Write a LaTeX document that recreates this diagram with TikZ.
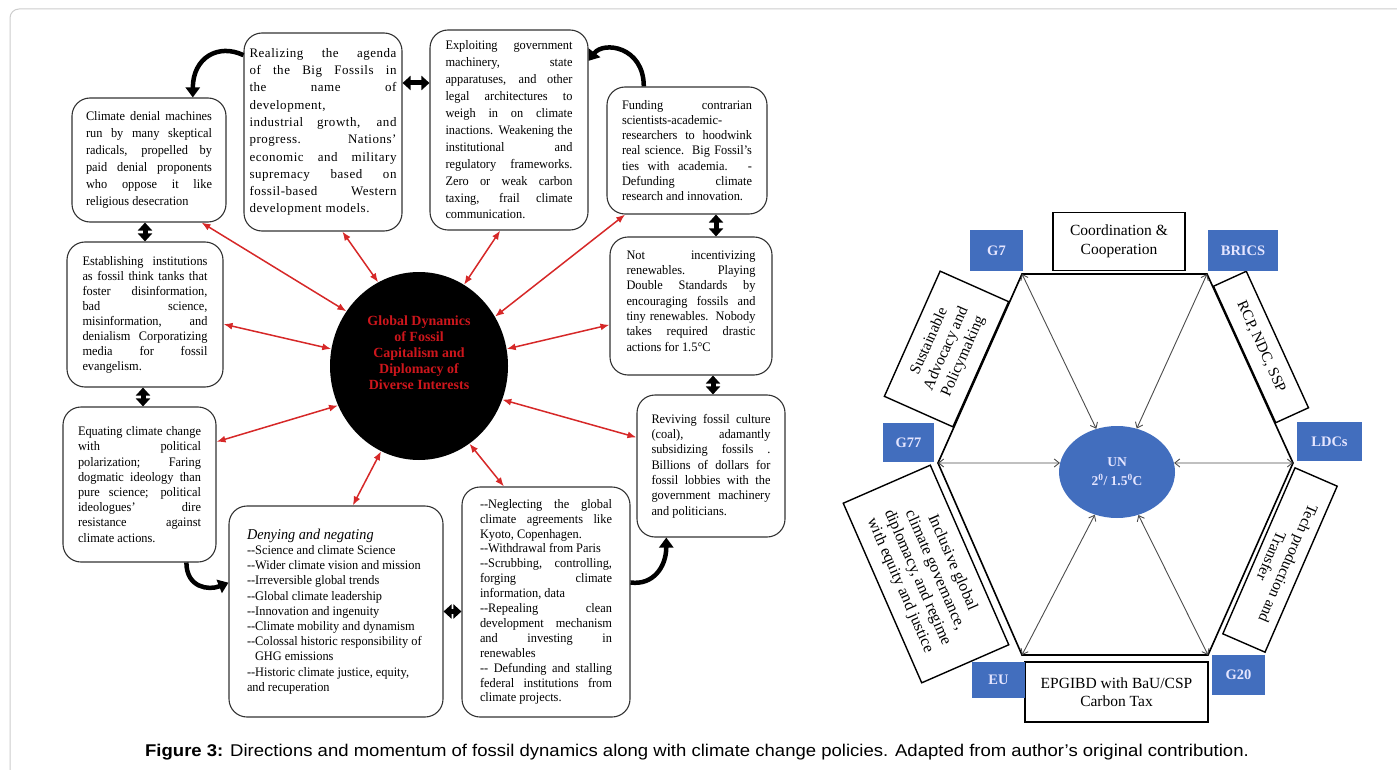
\documentclass[tikz,border=0pt]{standalone}
\usepackage{fontspec}
\setmainfont{Liberation Serif}
\setsansfont{Liberation Sans}
\newfontfamily\boxfont[FakeStretch=0.95,Ligatures=TeX]{Liberation Serif}
\newfontfamily\widefont[LetterSpace=4,Ligatures=TeX]{Liberation Serif}
\usetikzlibrary{arrows.meta,shapes.geometric}
\definecolor{arrred}{RGB}{214,40,40}
\definecolor{txtred}{RGB}{205,22,28}
\definecolor{hexblue}{RGB}{66,110,190}
\definecolor{frame}{RGB}{205,205,205}
\newcommand\jline[1]{\hbox to \hsize{#1}}
\newcommand\lline[1]{\hbox to \hsize{#1\hfil}}
\newcommand\dd{\mbox{-}\mbox{-}}
\newcommand\tb[2]{\vbox{\hsize=#1\relax #2}}
\tikzset{
 box/.style={draw=black!80, line width=1.1pt, rounded corners=18pt, fill=white, inner sep=0pt},
 redarr/.style={draw=arrred, line width=1.5pt, {Latex[length=9pt,width=7pt]}-{Latex[length=9pt,width=7pt]}},
 thk/.style={line width=5pt, {Triangle[length=8pt,width=14pt]}-{Triangle[length=8pt,width=14pt]}},
 curv/.style={line width=4.5pt, -{Triangle[length=10pt,width=14pt]}},
 blu/.style={fill=hexblue, text=white!90!blue, font=\fontsize{14.5}{16}\selectfont\bfseries, inner sep=0pt},
 lab/.style={draw=black, line width=1.4pt, fill=white, align=center, inner sep=0pt, font=\fontsize{15.5}{18.5}\selectfont},
 unarr/.style={draw=black!70, line width=0.9pt, {Straight Barb[length=5pt,width=8pt]}-{Straight Barb[length=5pt,width=8pt]}},
 hexline/.style={draw=black, line width=1.6pt, line join=miter},
}
\begin{document}
\begin{tikzpicture}[x=1pt,y=-1pt]
\useasboundingbox (0,0) rectangle (1397,770);
\begin{scope}
\clip (0,0) rectangle (1397,770);
\draw[frame, line width=1pt, rounded corners=9pt] (10,9) rectangle (1430,800);
\end{scope}

% ---------------- left diagram ----------------
\node[box, minimum width=154pt, minimum height=124pt, font=\boxfont\fontsize{13}{17}\selectfont] (A) at (149,160) {\tb{126pt}{%
\jline{Climate denial machines}
\jline{run by many skeptical}
\jline{radicals, propelled by}
\jline{paid denial proponents}
\jline{who oppose it like}
\lline{religious desecration}}};

\node[box, minimum width=158pt, minimum height=198pt, font=\widefont\fontsize{13}{17.3}\selectfont] (B) at (323,132) {\tb{147pt}{%
\jline{Realizing the agenda}
\jline{of the Big Fossils in}
\jline{the name of}
\lline{development,}
\jline{industrial growth, and}
\jline{progress. Nations'}
\jline{economic and military}
\jline{supremacy based on}
\jline{fossil-based Western}
\lline{development models.}}};

\node[box, minimum width=158pt, minimum height=200pt, font=\boxfont\fontsize{13}{16.9}\selectfont] (C) at (509,130) {\tb{127pt}{%
\jline{Exploiting government}
\jline{machinery, state}
\jline{apparatuses, and other}
\jline{legal architectures to}
\jline{weigh in on climate}
\jline{inactions. Weakening the}
\jline{institutional and}
\jline{regulatory frameworks.}
\jline{Zero or weak carbon}
\jline{taxing, frail climate}
\lline{communication.}}};

\node[box, minimum width=160pt, minimum height=127pt, font=\boxfont\fontsize{13}{15.3}\selectfont] (D) at (687,150.5) {\tb{130pt}{%
\jline{Funding contrarian}
\lline{scientists-academic-}
\jline{researchers to hoodwink}
\jline{real science. Big Fossil's}
\jline{ties with academia. -}
\jline{Defunding climate}
\lline{research and innovation.}}};

\node[box, minimum width=162pt, minimum height=138pt, font=\boxfont\fontsize{13}{15.3}\selectfont] (E) at (691,306) {\tb{129pt}{%
\jline{Not incentivizing}
\jline{renewables. Playing}
\jline{Double Standards by}
\jline{encouraging fossils and}
\jline{tiny renewables. Nobody}
\jline{takes required drastic}
\lline{actions for 1.5°C}
\vskip10pt}};

\node[box, minimum width=148pt, minimum height=142pt, font=\boxfont\fontsize{13}{15.3}\selectfont] (F) at (711,466) {\tb{119pt}{%
\jline{Reviving fossil culture}
\jline{(coal), adamantly}
\jline{subsidizing fossils .}
\jline{Billions of dollars for}
\jline{fossil lobbies with the}
\jline{government machinery}
\lline{and politicians.}}};

\node[box, minimum width=168pt, minimum height=230pt, font=\boxfont\fontsize{13}{14.9}\selectfont] (G) at (546,602) {\tb{132pt}{%
\jline{\dd Neglecting the global}
\jline{climate agreements like}
\lline{Kyoto, Copenhagen.}
\lline{\dd Withdrawal from Paris}
\jline{\dd Scrubbing, controlling,}
\jline{forging climate}
\lline{information, data}
\jline{\dd Repealing clean}
\jline{development mechanism}
\jline{and investing in}
\lline{renewables}
\jline{\dd\ Defunding and stalling}
\jline{federal institutions from}
\lline{climate projects.}}};

\node[box, minimum width=214pt, minimum height=211pt, font=\boxfont\fontsize{13}{15.2}\selectfont] (H) at (336,611.5) {\tb{178pt}{%
\lline{\fontsize{15}{15}\selectfont\itshape Denying and negating}
\lline{\dd Science and climate Science}
\lline{\dd Wider climate vision and mission}
\lline{\dd Irreversible global trends}
\lline{\dd Global climate leadership}
\lline{\dd Innovation and ingenuity}
\lline{\dd Climate mobility and dynamism}
\lline{\dd Colossal historic responsibility of}
\lline{\hspace{8pt}GHG emissions}
\lline{\dd Historic climate justice, equity,}
\lline{and recuperation}}};

\node[box, minimum width=153pt, minimum height=155pt, font=\boxfont\fontsize{13}{15.2}\selectfont] (I) at (139.5,484.5) {\tb{123pt}{%
\jline{Equating climate change}
\jline{with political}
\jline{polarization; Faring}
\jline{dogmatic ideology than}
\jline{pure science; political}
\jline{ideologues' dire}
\jline{resistance against}
\lline{climate actions.}}};

\node[box, minimum width=156pt, minimum height=145pt, font=\boxfont\fontsize{13}{15}\selectfont] (J) at (145,314.5) {\tb{125pt}{%
\jline{Establishing institutions}
\jline{as fossil think tanks that}
\jline{foster disinformation,}
\jline{bad science,}
\jline{misinformation, and}
\jline{denialism Corporatizing}
\jline{media for fossil}
\lline{evangelism.}}};

% central circle
\node[ellipse, fill=black, minimum width=178pt, minimum height=188pt, inner sep=0pt] (circ) at (419,366) {};
\node[text=txtred, align=center, font=\fontsize{14}{16}\selectfont\bfseries, inner sep=0pt] (circt) at ([yshift=13pt]circ.center) {Global Dynamics\\of Fossil\\Capitalism and\\Diplomacy of\\Diverse Interests};

% red double arrows
\draw[redarr] (A.-50) -- (circ.143);
\draw[redarr] (B.-79) -- (circ.116);
\draw[redarr] (C.-95) -- (circ.61);
\draw[redarr] (D.-134) -- (circ.33);
\draw[redarr] (E.193) -- (circ.11);
\draw[redarr] (F.159) -- (circ.-22);
\draw[redarr] (G.110) -- (circ.-57);
\draw[redarr] (H.81) -- (circ.-114);
\draw[redarr] (I.29) -- (circ.-154);
\draw[redarr] (J.-7) -- (circ.169);

% black thick connectors
\draw[thk] ([yshift=49pt]B.east) -- ([yshift=47pt]C.west);
\draw[thk] ([xshift=29pt]D.south) -- ([xshift=25pt]E.north);
\draw[thk] ([xshift=22pt]E.south) -- ([xshift=2pt]F.north);
\draw[thk] (H.east) -- (H.east -| G.west);
\draw[thk] ([xshift=-2pt]J.south) -- ([xshift=3.5pt]I.north);
\draw[thk] (J.north) -- ([xshift=-4pt]A.south);
\draw[curv] (B.136) .. controls +(-25,-12) and +(0,-40) .. (A.55);
\draw[curv] (D.124) .. controls +(0,-40) and +(15,-20) .. (C.41);
\draw[curv] (G.13) .. controls +(22,3) and +(0,30) .. (F.238);
\draw[curv] (I.-59) .. controls +(0,25) and +(-20,8) .. (H.165);

% ---------------- right diagram ----------------
\coordinate (vG7) at (1022,274);
\coordinate (vBR) at (1207,274);
\coordinate (vLD) at (1293,463);
\coordinate (vG20) at (1208,655);
\coordinate (vEU) at (1022,655);
\coordinate (vG77) at (938,463);
\draw[hexline] (vG7) -- (vBR) -- (vLD) -- (vG20) -- (vEU) -- (vG77) -- cycle;

\node[ellipse, fill=hexblue, minimum width=116pt, minimum height=92pt, inner sep=0pt, align=center, text=white!90!blue, font=\fontsize{13.5}{19}\selectfont\bfseries] (UN) at (1117,472) {UN\\2\textsuperscript{0}/ 1.5\textsuperscript{0}C};

\draw[unarr] (vG7) -- (UN);
\draw[unarr] (vBR) -- (UN);
\draw[unarr] (vG77) -- (UN.171);
\draw[unarr] (vLD) -- (UN.9);
\draw[unarr] (vEU) -- (UN);
\draw[unarr] (vG20) -- (UN);

\node[lab, minimum width=132pt, minimum height=58pt] (coord) at (1119,241.5) {Coordination \&\\Cooperation};
\node[lab, minimum width=183pt, minimum height=60pt] (epg) at (1116.5,692) {EPGIBD with BaU/CSP\\Carbon Tax};
\node[lab, rotate=66, minimum width=137pt, minimum height=75pt] (sus) at (946.5,349) {Sustainable\\Advocacy and\\Policymaking};
\node[lab, rotate=-65.5, minimum width=150pt, minimum height=36pt, font=\fontsize{15}{18}\selectfont] (rcp) at (1261,347) {RCP, NDC, SSP};
\node[lab, rotate=-113.5, minimum width=181pt, minimum height=46pt] (tech) at (1280,560) {Tech production and\\Transfer};
\node[lab, rotate=-66.4, minimum width=196pt, minimum height=95pt, font=\fontsize{16}{19}\selectfont] (inc) at (926,574) {Inclusive global\\climate governance,\\diplomacy, and regime\\with equity and justice};

\node[blu, minimum width=53pt, minimum height=41pt] (g7) at (996.5,250.5) {G7};
\node[blu, minimum width=70pt, minimum height=41pt] (brics) at (1243,250.5) {BRICS};
\node[blu, minimum width=51pt, minimum height=39pt] (g77) at (908.5,442.5) {G77};
\node[blu, minimum width=65pt, minimum height=39pt] (ldcs) at (1329.5,441.5) {LDCs};
\node[blu, minimum width=53pt, minimum height=36pt] (eu) at (998.5,680) {EU};
\node[blu, minimum width=53pt, minimum height=40pt] (g20) at (1238.5,675) {G20};

% caption
\node[font=\sffamily\fontsize{17}{19}\selectfont, inner sep=0pt] (cap) at (697,752) {\scalebox{1.09}[1]{\textbf{Figure 3:} Directions and momentum of fossil dynamics along with climate change policies. Adapted from author's original contribution.}};
\end{tikzpicture}
\end{document}
